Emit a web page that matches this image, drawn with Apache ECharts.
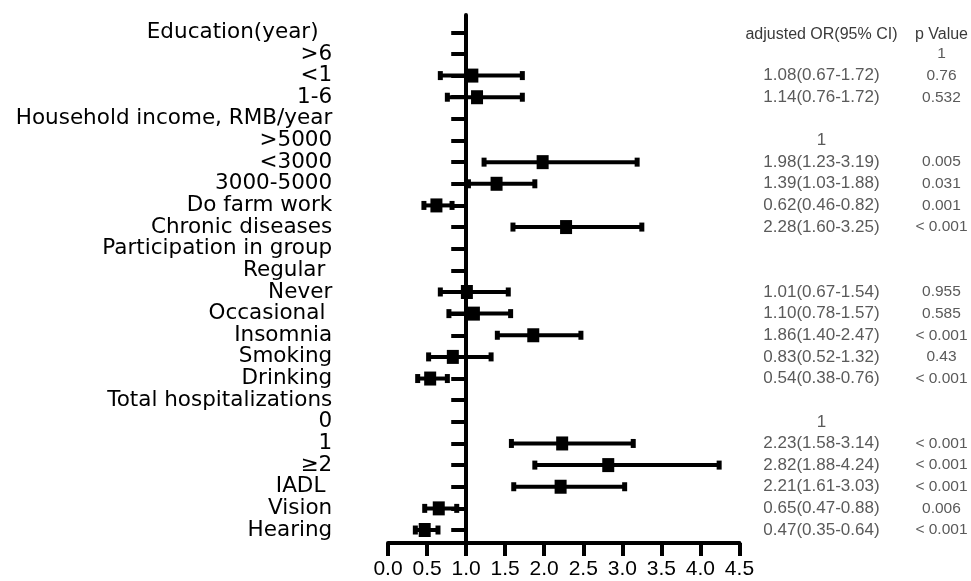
<!DOCTYPE html>
<html>
<head>
<meta charset="utf-8">
<script src="https://cdn.jsdelivr.net/npm/echarts@6/dist/echarts.min.js"></script>
<style>
html,body{margin:0;padding:0;background:#fff;}
#chart{width:971px;height:581px;}
</style>
</head>
<body>
<div id="chart"></div>
<script>
// ---- data ----
const rowLabels = ['Education(year)  ', '>6', '<1', '1-6', 'Household income, RMB/year', '>5000', '<3000', '3000-5000',
  'Do farm work', 'Chronic diseases', 'Participation in group', 'Regular ', 'Never', 'Occasional ', 'Insomnia',
  'Smoking', 'Drinking', 'Total hospitalizations', '0', '1', '≥2', 'IADL ', 'Vision', 'Hearing'];
const oddsRatio = [null, null, 1.08, 1.14, null, null, 1.98, 1.39, 0.62, 2.28, null, null, 1.01, 1.10, 1.86, 0.83, 0.54, null, null, 2.23, 2.82, 2.21, 0.65, 0.47];
const ciLow     = [null, null, 0.67, 0.76, null, null, 1.23, 1.03, 0.46, 1.60, null, null, 0.67, 0.78, 1.40, 0.52, 0.38, null, null, 1.58, 1.88, 1.61, 0.47, 0.35];
const ciHigh    = [null, null, 1.72, 1.72, null, null, 3.19, 1.88, 0.82, 3.25, null, null, 1.54, 1.57, 2.47, 1.32, 0.76, null, null, 3.14, 4.24, 3.03, 0.88, 0.64];
const orText = ['', '', '1.08(0.67-1.72)', '1.14(0.76-1.72)', '', '1', '1.98(1.23-3.19)', '1.39(1.03-1.88)', '0.62(0.46-0.82)', '2.28(1.60-3.25)',
  '', '', '1.01(0.67-1.54)', '1.10(0.78-1.57)', '1.86(1.40-2.47)', '0.83(0.52-1.32)', '0.54(0.38-0.76)', '', '1',
  '2.23(1.58-3.14)', '2.82(1.88-4.24)', '2.21(1.61-3.03)', '0.65(0.47-0.88)', '0.47(0.35-0.64)'];
const pText = ['', '1', '0.76', '0.532', '', '', '0.005', '0.031', '0.001', '< 0.001', '', '', '0.955', '0.585', '< 0.001', '0.43', '< 0.001',
  '', '', '< 0.001', '< 0.001', '< 0.001', '0.006', '< 0.001'];
const orHeader = 'adjusted OR(95% CI)';
const pHeader = 'p Value';
const xTicks = [0, 0.5, 1.0, 1.5, 2.0, 2.5, 3.0, 3.5, 4.0, 4.5];
const refValue = 1.0;

// ---- layout ----
const W = 971, H = 581;
const gridLeft = 388, gridRight = 231, gridTop = 15, gridBottom = 38;
const xMin = xTicks[0], xMax = xTicks[xTicks.length - 1], xStep = xTicks[1] - xTicks[0];
const gridW = W - gridLeft - gridRight;
const refOffset = -(refValue - xMin) / (xMax - xMin) * gridW;
const rowIdx = rowLabels.map((_, i) => i);
const evenRows = rowIdx.filter(i => i % 2 === 0);
const oddRows = rowIdx.filter(i => i % 2 === 1);
const yMin = -0.8, yMax = 23.6;

const seriesData = [];
rowIdx.forEach(i => {
  if (oddsRatio[i] != null) seriesData.push([oddsRatio[i], ciLow[i], ciHigh[i], i]);
});

const chart = echarts.init(document.getElementById('chart'));
const baseY = { type: 'value', min: yMin, max: yMax, inverse: true, splitLine: { show: false } };
const leftLabelStyle = { formatter: v => rowLabels[v], margin: 134, showMinLabel: true, showMaxLabel: true,
  hideOverlap: false, fontFamily: 'DejaVu Sans', fontSize: 21.5, color: '#000' };
const tableLabel = { align: 'center', showMinLabel: true, showMaxLabel: true, hideOverlap: false,
  fontFamily: 'Liberation Sans, Arial', color: '#5a5a5a' };
const headRich = { h: { fontFamily: 'Liberation Sans, Arial', fontSize: 16, color: '#3a3a3a', padding: [4, 0, 0, 0] } };

chart.setOption({
  animation: false,
  backgroundColor: '#fff',
  grid: { left: gridLeft, right: gridRight, top: gridTop, bottom: gridBottom, containLabel: false },
  xAxis: {
    type: 'value', min: xMin, max: xMax, interval: xStep,
    axisLine: { onZero: false, lineStyle: { color: '#000', width: 4 } },
    axisTick: { length: 13, lineStyle: { color: '#000', width: 4 } },
    axisLabel: { fontFamily: 'Liberation Sans, Arial', fontSize: 21, color: '#000', margin: 16,
      showMinLabel: true, showMaxLabel: true, formatter: v => v.toFixed(1) },
    splitLine: { show: false }
  },
  yAxis: [
    Object.assign({}, baseY, {
      position: 'left', offset: refOffset,
      axisLine: { show: true, onZero: false, lineStyle: { color: '#000', width: 4 } },
      axisTick: { show: true, customValues: rowIdx, length: 15, lineStyle: { color: '#000', width: 4 } },
      axisLabel: Object.assign({ customValues: evenRows }, leftLabelStyle)
    }),
    Object.assign({}, baseY, {
      position: 'left', offset: refOffset,
      axisLine: { show: false, onZero: false }, axisTick: { show: false },
      axisLabel: Object.assign({ customValues: oddRows }, leftLabelStyle)
    }),
    Object.assign({}, baseY, {
      position: 'right', offset: 0,
      axisLine: { show: false, onZero: false }, axisTick: { show: false },
      axisLabel: Object.assign({ customValues: rowIdx, margin: 82, fontSize: 17, rich: headRich,
        formatter: v => v === 0 ? '{h|' + orHeader + '}' : orText[v] }, tableLabel)
    }),
    Object.assign({}, baseY, {
      position: 'right', offset: 0,
      axisLine: { show: false, onZero: false }, axisTick: { show: false },
      axisLabel: Object.assign({ customValues: rowIdx, margin: 202, fontSize: 15.5, rich: headRich,
        formatter: v => v === 0 ? '{h|' + pHeader + '}' : pText[v] }, tableLabel)
    })
  ],
  series: [{
    type: 'custom',
    yAxisIndex: 0,
    data: seriesData,
    encode: { x: [0, 1, 2], y: 3 },
    renderItem: function (params, api) {
      const row = api.value(3);
      const p = api.coord([api.value(0), row]);
      const l = api.coord([api.value(1), row]);
      const h = api.coord([api.value(2), row]);
      const capW = 5, capH = 9, sqW = 12, sqH = 14;
      return {
        type: 'group',
        children: [
          { type: 'line', shape: { x1: l[0], y1: l[1], x2: h[0], y2: h[1] }, style: { stroke: '#000', lineWidth: 4 } },
          { type: 'rect', shape: { x: l[0] - capW / 2, y: l[1] - capH / 2, width: capW, height: capH }, style: { fill: '#000' } },
          { type: 'rect', shape: { x: h[0] - capW / 2, y: h[1] - capH / 2, width: capW, height: capH }, style: { fill: '#000' } },
          { type: 'rect', shape: { x: p[0] - sqW / 2, y: p[1] - sqH / 2, width: sqW, height: sqH }, style: { fill: '#000' } }
        ]
      };
    }
  }]
});
</script>
</body>
</html>
